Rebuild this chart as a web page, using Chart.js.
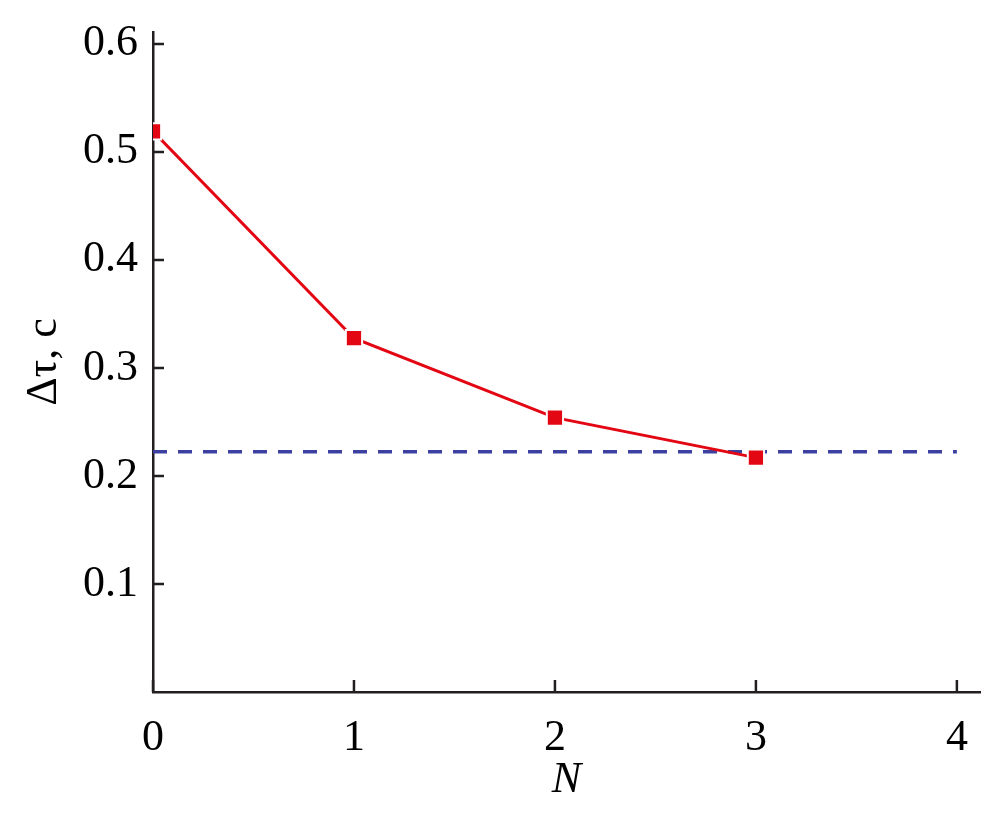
<!DOCTYPE html>
<html>
<head>
<meta charset="utf-8">
<script src="https://cdn.jsdelivr.net/npm/chart.js@4"></script>
<style>
  html, body { margin: 0; padding: 0; background: #fff; }
  #wrap { width: 1004px; height: 832px; }
</style>
</head>
<body>
<div id="wrap"><canvas id="c" width="1004" height="832"></canvas></div>
<script>
// Данные графика
const nValues = [0, 1, 2, 3];
const dtValues = [0.519, 0.3275, 0.254, 0.217];
const limitLevel = 0.2224;
const limitRange = [0, 4];
const xTicks = [0, 1, 2, 3, 4];
const yTicks = [0.1, 0.2, 0.3, 0.4, 0.5, 0.6];

const axisColor = '#231f20';
const serif = "'Liberation Serif', serif";

// засечки внутрь области графика
const innerTicks = {
    id: 'innerTicks',
    afterDraw(chart) {
        const { ctx, scales: { x, y } } = chart;
        ctx.save();
        ctx.strokeStyle = axisColor;
        ctx.lineWidth = 2.5;
        ctx.beginPath();
        xTicks.forEach(v => {
            const px = x.getPixelForValue(v);
            ctx.moveTo(px, y.bottom);
            ctx.lineTo(px, y.bottom - 12);
        });
        yTicks.forEach(v => {
            const py = y.getPixelForValue(v);
            ctx.moveTo(x.left, py);
            ctx.lineTo(x.left + 11, py);
        });
        ctx.stroke();
        ctx.restore();
    }
};

new Chart(document.getElementById('c'), {
    type: 'scatter',
    data: {
        datasets: [{
            data: nValues.map((n, i) => ({ x: n, y: dtValues[i] })),
            showLine: true,
            borderColor: '#e30613',
            borderWidth: 3,
            pointStyle: 'rect',
            pointRadius: 11.5,
            pointBackgroundColor: '#e30613',
            pointBorderColor: '#ffffff',
            pointBorderWidth: 2,
            order: 1
        }, {
            data: limitRange.map(n => ({ x: n, y: limitLevel })),
            showLine: true,
            borderColor: '#3c40a0',
            borderWidth: 3.5,
            borderDash: [14, 11],
            pointRadius: 0,
            order: 2
        }]
    },
    options: {
        responsive: false,
        animation: false,
        layout: { padding: { top: 32, right: 24, left: 0, bottom: 0 } },
        plugins: { legend: { display: false }, tooltip: { enabled: false } },
        scales: {
            x: {
                type: 'linear',
                min: 0,
                max: 4.115,
                afterBuildTicks: s => { s.ticks = xTicks.map(v => ({ value: v })); },
                afterFit: s => { s.height = 140; s.paddingLeft = 0; s.paddingRight = 0; },
                grid: { display: false, drawTicks: false },
                border: { display: true, color: axisColor, width: 2.5 },
                ticks: {
                    color: '#000',
                    padding: 20,
                    maxRotation: 0,
                    font: { family: serif, size: 44 },
                    callback: v => String(v)
                },
                title: {
                    display: true,
                    text: 'N',
                    color: '#000',
                    padding: { top: 0, bottom: 25 },
                    font: { family: serif, size: 44, style: 'italic' }
                }
            },
            y: {
                min: 0,
                max: 0.611,
                afterBuildTicks: s => { s.ticks = yTicks.map(v => ({ value: v })); },
                afterFit: s => { s.width = 153; s.paddingTop = 0; s.paddingBottom = 0; },
                grid: { display: false, drawTicks: false },
                border: { display: true, color: axisColor, width: 2.5 },
                ticks: {
                    color: '#000',
                    padding: 15,
                    font: { family: serif, size: 44 },
                    callback: v => v.toFixed(1)
                },
                title: {
                    display: true,
                    text: 'Δτ, c',
                    color: '#000',
                    padding: { top: 18, bottom: 0 },
                    font: { family: serif, size: 44 }
                }
            }
        }
    },
    plugins: [innerTicks]
});
</script>
</body>
</html>
